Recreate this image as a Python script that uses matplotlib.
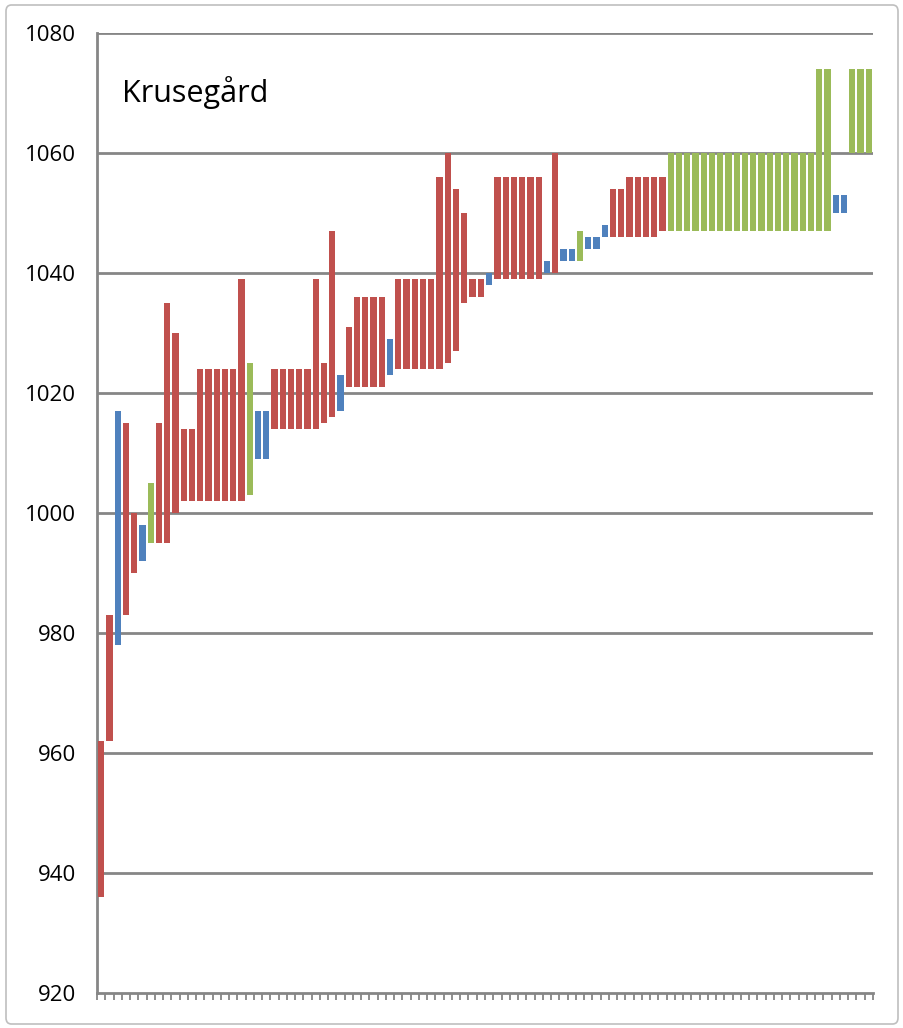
import numpy as np
import matplotlib
matplotlib.use('Agg')
import matplotlib.pyplot as plt
from matplotlib.patches import FancyBboxPatch

# floating bars: low / high per category, colour code r/b/g
lows = [936, 962, 978, 983, 990, 992, 995, 995, 995, 1000,
        1002, 1002,
        1002, 1002, 1002, 1002, 1002, 1002,
        1003,
        1009, 1009,
        1014, 1014, 1014, 1014, 1014, 1014, 1015, 1016,
        1017,
        1021, 1021, 1021, 1021, 1021,
        1023,
        1024, 1024, 1024, 1024, 1024, 1024, 1025, 1027, 1035, 1036, 1036,
        1038,
        1039, 1039, 1039, 1039, 1039, 1039, 1040, 1040,
        1042, 1042, 1042, 1044, 1044, 1046,
        1046, 1046, 1046, 1046, 1046, 1046, 1047,
        1047, 1047, 1047, 1047, 1047, 1047, 1047, 1047, 1047, 1047,
        1047, 1047, 1047, 1047, 1047, 1047, 1047, 1047, 1047, 1047,
        1050, 1050,
        1060, 1060, 1060]

highs = [962, 983, 1017, 1015, 1000, 998, 1005, 1015, 1035, 1030,
         1014, 1014,
         1024, 1024, 1024, 1024, 1024, 1039,
         1025,
         1017, 1017,
         1024, 1024, 1024, 1024, 1024, 1039, 1025, 1047,
         1023,
         1031, 1036, 1036, 1036, 1036,
         1029,
         1039, 1039, 1039, 1039, 1039, 1056, 1060, 1054, 1050, 1039, 1039,
         1040,
         1056, 1056, 1056, 1056, 1056, 1056, 1042, 1060,
         1044, 1044, 1047, 1046, 1046, 1048,
         1054, 1054, 1056, 1056, 1056, 1056, 1056,
         1060, 1060, 1060, 1060, 1060, 1060, 1060, 1060, 1060, 1060,
         1060, 1060, 1060, 1060, 1060, 1060, 1060, 1060, 1074, 1074,
         1053, 1053,
         1074, 1074, 1074]

kinds = ('rrbrrbgrrr' + 'rr' + 'rrrrrr' + 'g' + 'bb' + 'rrrrrrrr' + 'b' +
         'rrrrr' + 'b' + 'rrrrrrrrrrr' + 'b' + 'rrrrrrbr' + 'bbgbbb' +
         'rrrrrrr' + 'g' * 20 + 'bb' + 'ggg')

yticks = [920, 940, 960, 980, 1000, 1020, 1040, 1060, 1080]
title = 'Krusegård'

palette = {'r': '#C0504D', 'b': '#4F81BD', 'g': '#9BBB59'}
grid_col = '#868686'

plt.rcParams['font.family'] = ['Open Sans', 'DejaVu Sans']

fig = plt.figure(figsize=(9.04, 10.28), dpi=100)
ax = fig.add_axes([97/904, 35/1028, 776/904, 960/1028])

x = np.arange(len(lows))
lo = np.array(lows)
hi = np.array(highs)
ax.bar(x, hi - lo, bottom=lo, width=0.76,
       color=[palette[k] for k in kinds], zorder=3)

ax.set_ylim(920, 1080)
ax.set_xlim(-0.5, len(lows) - 0.5)
ax.set_yticks(yticks)
ax.set_yticklabels([str(v) for v in yticks], fontsize=16)
ax.set_xticks(np.arange(len(lows) + 1) - 0.5)
ax.set_xticklabels([])
ax.tick_params(axis='y', length=0, pad=15)
ax.tick_params(axis='x', direction='out', length=5, width=1.3, color=grid_col)

for v in yticks[1:]:
    ax.axhline(v, color=grid_col, lw=2.0, zorder=1)

ax.spines['top'].set_visible(False)
ax.spines['right'].set_visible(False)
for s in ['left', 'bottom']:
    ax.spines[s].set_color(grid_col)
    ax.spines[s].set_linewidth(2.0)

ax.text(0.032, 0.955, title, transform=ax.transAxes, fontsize=22,
        va='top', ha='left')

# outer chart border
fig.patches.append(FancyBboxPatch((6/904, 4/1028), 892/904, 1019/1028,
                                  boxstyle='round,pad=0,rounding_size=0.006',
                                  transform=fig.transFigure, fill=False,
                                  edgecolor='#bfbfbf', lw=1.2))

plt.savefig('out.png', dpi=100)
